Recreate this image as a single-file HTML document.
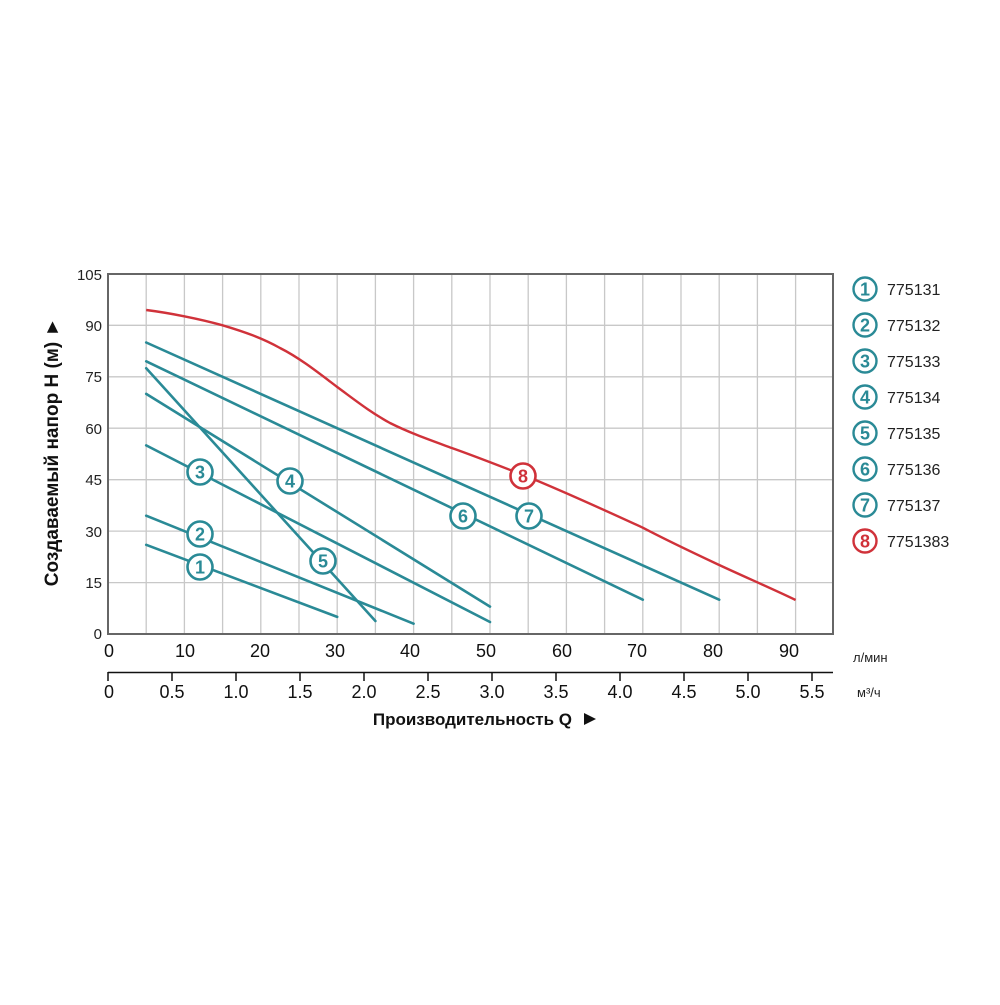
<!DOCTYPE html>
<html><head><meta charset="utf-8"><style>
html,body{margin:0;padding:0;background:#fff;}
svg text{font-family:"Liberation Sans",sans-serif;}
</style></head><body>
<svg width="1000" height="1000" viewBox="0 0 1000 1000" xmlns="http://www.w3.org/2000/svg">
<rect width="1000" height="1000" fill="#fff"/>
<g stroke="#c8c8c8" stroke-width="1.3">
<line x1="146.2" y1="274" x2="146.2" y2="634"/><line x1="184.4" y1="274" x2="184.4" y2="634"/>
<line x1="222.6" y1="274" x2="222.6" y2="634"/><line x1="260.8" y1="274" x2="260.8" y2="634"/>
<line x1="299" y1="274" x2="299" y2="634"/><line x1="337.2" y1="274" x2="337.2" y2="634"/>
<line x1="375.4" y1="274" x2="375.4" y2="634"/><line x1="413.6" y1="274" x2="413.6" y2="634"/>
<line x1="451.8" y1="274" x2="451.8" y2="634"/><line x1="490" y1="274" x2="490" y2="634"/>
<line x1="528.2" y1="274" x2="528.2" y2="634"/><line x1="566.4" y1="274" x2="566.4" y2="634"/>
<line x1="604.6" y1="274" x2="604.6" y2="634"/><line x1="642.8" y1="274" x2="642.8" y2="634"/>
<line x1="681" y1="274" x2="681" y2="634"/><line x1="719.2" y1="274" x2="719.2" y2="634"/>
<line x1="757.4" y1="274" x2="757.4" y2="634"/><line x1="795.6" y1="274" x2="795.6" y2="634"/>
<line x1="108" y1="325.3" x2="833" y2="325.3"/><line x1="108" y1="376.8" x2="833" y2="376.8"/>
<line x1="108" y1="428.2" x2="833" y2="428.2"/><line x1="108" y1="479.7" x2="833" y2="479.7"/>
<line x1="108" y1="531.1" x2="833" y2="531.1"/><line x1="108" y1="582.6" x2="833" y2="582.6"/>
</g>
<rect x="108" y="274" width="725" height="360" fill="none" stroke="#666" stroke-width="2"/>
<g font-size="15" fill="#222" text-anchor="end">
<text x="102" y="280">105</text><text x="102" y="331">90</text><text x="102" y="382">75</text>
<text x="102" y="434">60</text><text x="102" y="485">45</text><text x="102" y="537">30</text>
<text x="102" y="588">15</text><text x="102" y="639">0</text>
</g>
<g font-size="18" fill="#111" text-anchor="middle">
<text x="109" y="657">0</text><text x="185" y="657">10</text><text x="260" y="657">20</text>
<text x="335" y="657">30</text><text x="410" y="657">40</text><text x="486" y="657">50</text>
<text x="562" y="657">60</text><text x="637" y="657">70</text><text x="713" y="657">80</text>
<text x="789" y="657">90</text>
</g>
<text x="853" y="662" font-size="13" fill="#222">л/мин</text>
<line x1="108" y1="672.5" x2="833" y2="672.5" stroke="#111" stroke-width="1.5"/>
<g stroke="#111" stroke-width="1.5">
<line x1="108" y1="672" x2="108" y2="681"/><line x1="172" y1="672" x2="172" y2="681"/>
<line x1="236" y1="672" x2="236" y2="681"/><line x1="300" y1="672" x2="300" y2="681"/>
<line x1="364" y1="672" x2="364" y2="681"/><line x1="428" y1="672" x2="428" y2="681"/>
<line x1="492" y1="672" x2="492" y2="681"/><line x1="556" y1="672" x2="556" y2="681"/>
<line x1="620" y1="672" x2="620" y2="681"/><line x1="684" y1="672" x2="684" y2="681"/>
<line x1="748" y1="672" x2="748" y2="681"/><line x1="812" y1="672" x2="812" y2="681"/>
</g>
<g font-size="18" fill="#111" text-anchor="middle">
<text x="109" y="698">0</text><text x="172" y="698">0.5</text><text x="236" y="698">1.0</text>
<text x="300" y="698">1.5</text><text x="364" y="698">2.0</text><text x="428" y="698">2.5</text>
<text x="492" y="698">3.0</text><text x="556" y="698">3.5</text><text x="620" y="698">4.0</text>
<text x="684" y="698">4.5</text><text x="748" y="698">5.0</text><text x="812" y="698">5.5</text>
</g>
<text x="857" y="697" font-size="13" fill="#222">м³/ч</text>
<text x="572" y="725" font-size="17" font-weight="bold" fill="#111" text-anchor="end">Производительность Q</text>
<path d="M584,713 L596,719 L584,725 Z" fill="#111"/>
<text transform="translate(58,452) rotate(-90)" font-size="19" font-weight="bold" fill="#111" text-anchor="middle">Создаваемый напор H (м) ►</text>
<g stroke="#2a8a96" stroke-width="2.6" fill="none" stroke-linecap="round">
<line x1="146.2" y1="544.8" x2="337.2" y2="616.9"/>
<line x1="146.2" y1="515.7" x2="413.6" y2="623.7"/>
<line x1="146.2" y1="445.4" x2="490" y2="622"/>
<line x1="146.2" y1="393.9" x2="490" y2="606.6"/>
<line x1="146.2" y1="368.2" x2="375.4" y2="621"/>
<line x1="146.2" y1="361.3" x2="642.8" y2="599.7"/>
<line x1="146.2" y1="342.5" x2="719.2" y2="599.7"/>
</g>
<path d="M146.2,310 C170,313 200,319 222.6,325.3 C245,332 262,338 280,348 C300,358 320,374 337.2,387 C355,400 370,412 390,423 C410,433 430,440 451.8,448 C480,458 505,468 528.2,477 C560,490 600,508 642.8,527.7 C670,542 700,556 719.2,565 C745,577 775,590 795.6,600" stroke="#d0323a" stroke-width="2.4" fill="none"/>
<g font-size="18" font-weight="bold" text-anchor="middle">
<g fill="#fff" stroke="#2a8a96" stroke-width="2.6">
<circle cx="200" cy="567" r="12.5"/><circle cx="200" cy="534" r="12.5"/><circle cx="200" cy="472" r="12.5"/>
<circle cx="290" cy="481" r="12.5"/><circle cx="323" cy="561" r="12.5"/><circle cx="463" cy="516" r="12.5"/>
<circle cx="529" cy="516" r="12.5"/>
</g>
<circle cx="523" cy="476" r="12.5" fill="#fff" stroke="#d0323a" stroke-width="2.6"/>
<g fill="#2a8a96">
<text x="200" y="573.5">1</text><text x="200" y="540.5">2</text><text x="200" y="478.5">3</text>
<text x="290" y="487.5">4</text><text x="323" y="567.5">5</text><text x="463" y="522.5">6</text>
<text x="529" y="522.5">7</text>
</g>
<text x="523" y="482.5" fill="#d0323a">8</text>
</g>
<g font-size="18" font-weight="bold" text-anchor="middle">
<g fill="#fff" stroke="#2a8a96" stroke-width="2.4">
<circle cx="865" cy="289" r="11.5"/><circle cx="865" cy="325" r="11.5"/><circle cx="865" cy="361" r="11.5"/>
<circle cx="865" cy="397" r="11.5"/><circle cx="865" cy="433" r="11.5"/><circle cx="865" cy="469" r="11.5"/>
<circle cx="865" cy="505" r="11.5"/>
</g>
<circle cx="865" cy="541" r="11.5" fill="#fff" stroke="#d0323a" stroke-width="2.4"/>
<g fill="#2a8a96">
<text x="865" y="295.5">1</text><text x="865" y="331.5">2</text><text x="865" y="367.5">3</text>
<text x="865" y="403.5">4</text><text x="865" y="439.5">5</text><text x="865" y="475.5">6</text>
<text x="865" y="511.5">7</text>
</g>
<text x="865" y="547.5" fill="#d0323a">8</text>
</g>
<g font-size="16" fill="#222">
<text x="887" y="295">775131</text><text x="887" y="331">775132</text><text x="887" y="367">775133</text>
<text x="887" y="403">775134</text><text x="887" y="439">775135</text><text x="887" y="475">775136</text>
<text x="887" y="511">775137</text><text x="887" y="547">7751383</text>
</g>
</svg>
</body></html>
